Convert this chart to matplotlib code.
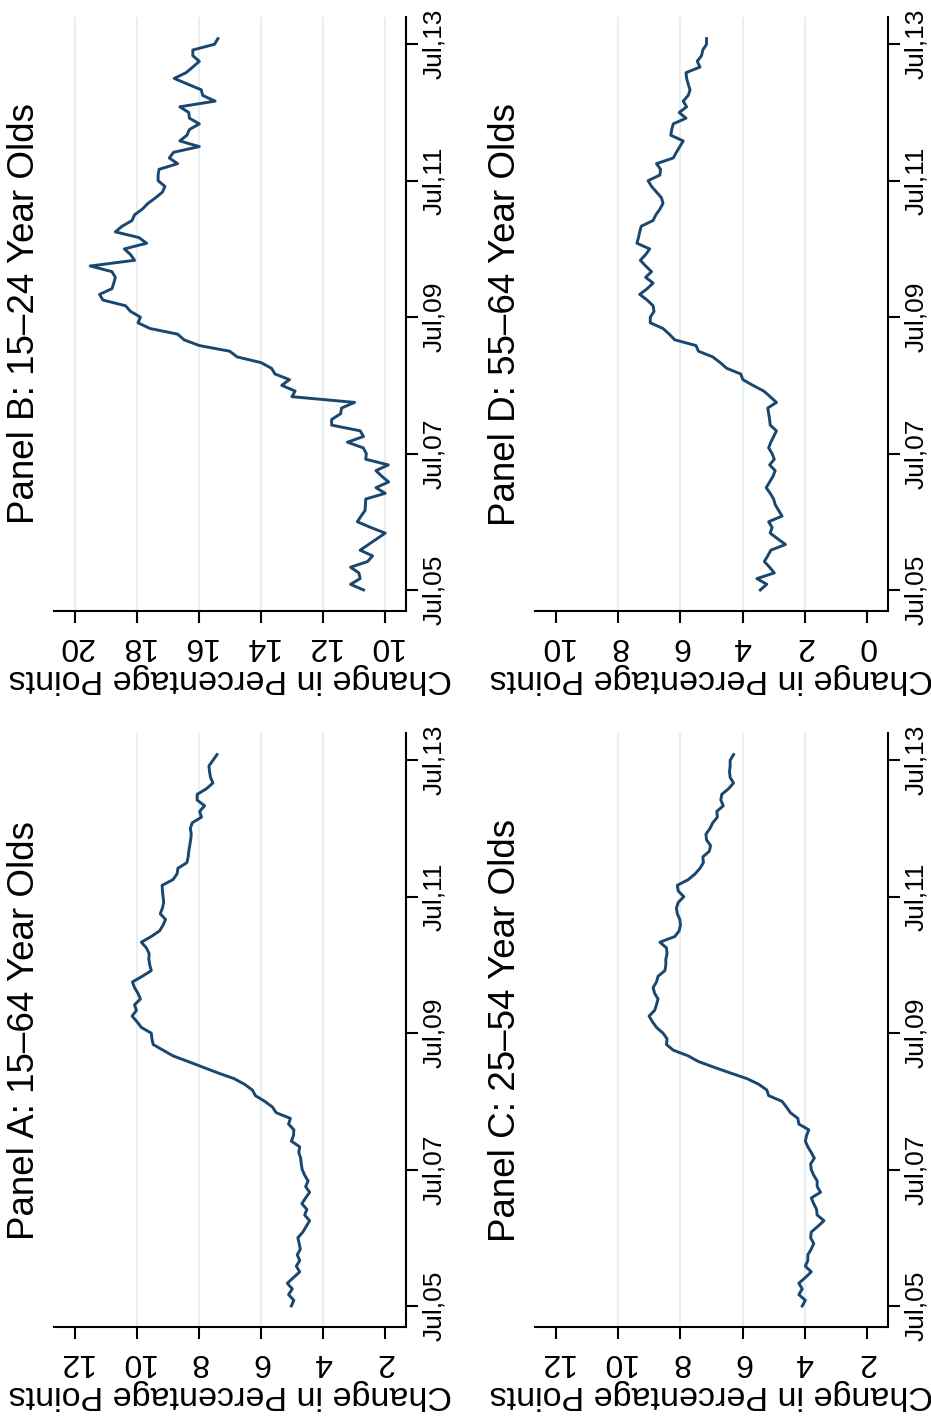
import numpy as np
import matplotlib.pyplot as plt

plt.rcParams['font.family'] = ['Liberation Sans', 'DejaVu Sans']

# Monthly series, Jul 2005 .. Aug 2013 (change in percentage points)
panel_a = [5.02, 4.94, 5.11, 4.99, 5.15, 4.95, 4.75, 4.86, 4.75, 4.83,
           4.73, 4.77, 4.81, 4.65, 4.54, 4.43, 4.59, 4.52, 4.68, 4.56,
           4.43, 4.56, 4.48, 4.59, 4.67, 4.70, 4.72, 4.78, 4.75, 5.02,
           4.95, 4.94, 5.11, 5.05, 5.51, 5.63, 5.88, 6.18, 6.28, 6.53,
           6.87, 7.39, 7.87, 8.35, 8.84, 9.16, 9.48, 9.52, 9.54, 9.86,
           10.00, 10.16, 10.02, 10.08, 9.89, 9.97, 10.08, 10.15, 9.83, 9.54,
           9.59, 9.62, 9.61, 9.70, 9.86, 9.54, 9.27, 9.16, 9.08, 9.25,
           9.18, 9.14, 9.16, 9.18, 9.19, 8.84, 8.71, 8.68, 8.39, 8.35,
           8.33, 8.30, 8.27, 8.25, 8.28, 8.22, 7.92, 7.98, 7.82, 8.06,
           8.06, 7.76, 7.55, 7.63, 7.66, 7.68, 7.55, 7.42]

panel_b = [10.69, 11.11, 10.80, 10.84, 11.11, 10.56, 10.40, 10.80, 10.53, 10.26,
           9.99, 10.46, 10.89, 10.77, 10.64, 10.63, 10.62, 9.99, 10.29, 9.88,
           10.10, 10.29, 9.89, 10.62, 10.60, 10.70, 11.21, 10.69, 10.80, 11.72,
           11.72, 11.43, 11.40, 10.98, 13.00, 12.90, 13.33, 13.08, 13.55, 13.66,
           14.00, 14.77, 15.01, 15.99, 16.48, 16.69, 17.58, 17.97, 17.89, 18.21,
           18.37, 19.10, 19.21, 18.81, 18.75, 18.70, 18.81, 19.51, 18.08, 18.21,
           18.41, 17.69, 17.94, 18.70, 18.48, 18.16, 18.08, 17.83, 17.65, 17.40,
           17.18, 17.10, 17.32, 17.32, 17.29, 16.69, 16.96, 16.82, 15.99, 16.62,
           16.39, 16.31, 15.99, 16.31, 16.33, 16.62, 15.48, 15.88, 15.93, 16.37,
           16.80, 16.42, 16.20, 15.99, 16.20, 16.20, 15.50, 15.39]

panel_c = [4.08, 3.98, 4.19, 4.08, 4.19, 3.98, 3.79, 3.98, 3.90, 3.90,
           3.79, 3.71, 3.81, 3.79, 3.58, 3.38, 3.60, 3.62, 3.71, 3.79,
           3.49, 3.60, 3.60, 3.71, 3.79, 3.81, 3.69, 3.79, 3.90, 3.98,
           3.94, 3.87, 4.19, 4.22, 4.46, 4.59, 4.73, 5.16, 5.22, 5.48,
           5.86, 6.40, 6.92, 7.42, 7.75, 8.23, 8.45, 8.43, 8.56, 8.77,
           8.90, 9.01, 8.83, 8.77, 8.72, 8.83, 8.88, 8.77, 8.72, 8.50,
           8.47, 8.47, 8.43, 8.45, 8.66, 8.18, 8.04, 8.00, 8.02, 8.10,
           8.13, 8.07, 7.89, 8.07, 8.10, 7.75, 7.53, 7.37, 7.26, 7.28,
           7.07, 7.03, 7.16, 7.18, 7.05, 6.96, 6.81, 6.83, 6.62, 6.70,
           6.67, 6.45, 6.29, 6.40, 6.42, 6.40, 6.40, 6.29]

panel_d = [3.43, 3.22, 3.54, 2.98, 3.13, 3.30, 3.19, 3.09, 2.62, 2.87,
           3.11, 3.05, 3.16, 2.73, 2.84, 2.95, 3.00, 3.11, 3.24, 3.13,
           3.02, 2.95, 3.13, 2.98, 3.05, 3.16, 3.09, 3.00, 2.91, 3.11,
           3.13, 3.16, 3.19, 2.91, 3.11, 3.32, 3.67, 3.99, 4.06, 4.51,
           4.72, 4.96, 5.42, 5.50, 6.18, 6.36, 6.56, 6.97, 6.97, 6.85,
           6.88, 7.07, 7.31, 7.07, 6.88, 7.12, 6.93, 7.12, 7.29, 7.12,
           6.99, 7.40, 7.35, 7.31, 7.26, 6.88, 6.79, 6.66, 6.56, 6.61,
           6.77, 6.93, 7.04, 6.66, 6.64, 6.77, 6.23, 6.13, 6.02, 5.91,
           6.31, 6.28, 6.23, 5.82, 6.04, 5.80, 5.91, 5.75, 5.69, 5.75,
           5.80, 5.82, 5.37, 5.46, 5.32, 5.28, 5.16, 5.16]

titles = ['Panel A: 15\u201364 Year Olds', 'Panel B: 15\u201324 Year Olds',
          'Panel C: 25\u201354 Year Olds', 'Panel D: 55\u201364 Year Olds']
date_ticks = [0, 24, 48, 72, 96]          # months since Jul 2005
date_labels = ['Jul,05', 'Jul,07', 'Jul,09', 'Jul,11', 'Jul,13']
value_ticks = {'A': [2, 4, 6, 8, 10, 12], 'B': [10, 12, 14, 16, 18, 20],
               'C': [2, 4, 6, 8, 10, 12], 'D': [0, 2, 4, 6, 8, 10]}
grid_vals = {'A': [4, 6, 8, 10], 'B': [10, 12, 14, 16, 18, 20],
             'C': [4, 6, 8, 10], 'D': [2, 4, 6, 8]}

W, H = 931, 1427
line_col = '#1a476f'
grid_col = '#e8eff2'

# figure is the landscape Stata graph turned a quarter turn
# panel boxes in pixels: x0, x1, y0 (top), y1 (bottom)
boxes = {'A': (54, 406, 733, 1327), 'B': (54, 406, 17, 611),
         'C': (535, 888, 733, 1327), 'D': (535, 888, 17, 611)}
series = {'A': panel_a, 'B': panel_b, 'C': panel_c, 'D': panel_d}

fig = plt.figure(figsize=(W / 100, H / 100), dpi=100)
fig.patch.set_facecolor('white')

for key, title in zip('ABCD', titles):
    x0, x1, y0, y1 = boxes[key]
    ax = fig.add_axes([x0 / W, 1 - y1 / H, (x1 - x0) / W, (y1 - y0) / H])
    vals = series[key]
    months = np.arange(len(vals))
    ticks = value_ticks[key]
    lo, hi = ticks[0], ticks[-1]

    for g in grid_vals[key]:
        ax.axvline(g, color=grid_col, lw=1.6, zorder=0)
    ax.plot(vals, months, color=line_col, lw=2.1, zorder=2)

    ax.set_xlim(hi + 0.68, lo - 0.68)
    ax.set_ylim(-3.7, 100.8)

    for s in ['top', 'left']:
        ax.spines[s].set_visible(False)
    for s in ['bottom', 'right']:
        ax.spines[s].set_linewidth(1.5)

    ax.set_xticks(ticks)
    ax.set_xticklabels([str(t) for t in ticks], rotation=180, fontsize=23)
    ax.tick_params(axis='x', length=8.6, width=1.5, pad=6)

    ax.yaxis.tick_right()
    ax.set_yticks(date_ticks)
    ax.set_yticklabels(date_labels, rotation=90, va='center', fontsize=19)
    ax.tick_params(axis='y', length=8.6, width=1.5, pad=3)

    ax.set_xlabel('Change in Percentage Points', rotation=180,
                  fontsize=24.5, labelpad=1)

    fig.text((x0 - 47) / W, 1 - (y0 + y1) / 2 / H, title, rotation=90,
             ha='left', va='center', fontsize=26.5)

fig.savefig('out.png', dpi=100, facecolor='white')
